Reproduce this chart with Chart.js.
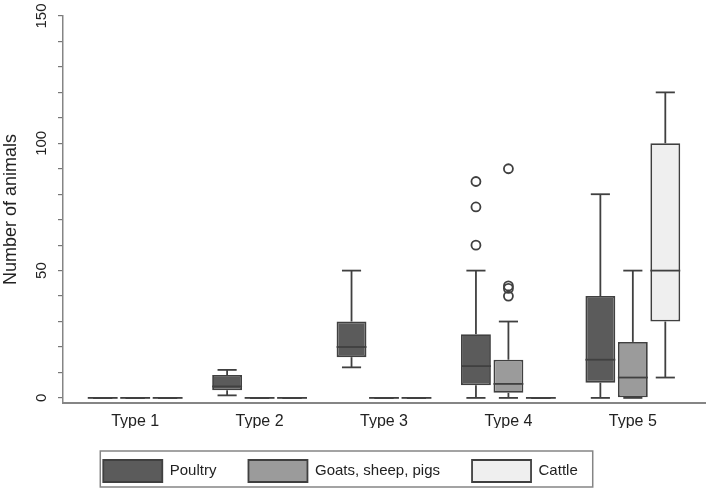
<!DOCTYPE html>
<html>
<head>
<meta charset="utf-8">
<script src="https://cdn.jsdelivr.net/npm/chart.js@4.4.0/dist/chart.umd.min.js"></script>
<style>
  html, body { margin: 0; padding: 0; background: #fff; }
  #wrap { width: 709px; height: 492px; }
</style>
</head>
<body>
<div id="wrap"><canvas id="boxChart"></canvas></div>
<script>
// Categories and tick labels
const categories = ['Type 1', 'Type 2', 'Type 3', 'Type 4', 'Type 5'];
const seriesNames = ['Poultry', 'Goats, sheep, pigs', 'Cattle'];
const yMajorTicks = [0, 50, 100, 150];
const yMinorTicks = [0, 10, 20, 30, 40, 50, 60, 70, 80, 90, 100, 110, 120, 130, 140, 150];

// Poultry box statistics (per category)
const poultryMin = [0, 1, 12, 0, 0];
const poultryQ1 = [0, 3, 16, 5, 6];
const poultryMed = [0, 4.5, 20, 12.5, 15];
const poultryQ3 = [0, 9, 30, 25, 40];
const poultryMax = [0, 11, 50, 50, 80];
const poultryOut = [[], [], [], [60, 75, 85], []];

// Goats, sheep, pigs
const goatsMin = [0, 0, 0, 0, 0];
const goatsQ1 = [0, 0, 0, 2, 0];
const goatsMed = [0, 0, 0, 5.5, 8];
const goatsQ3 = [0, 0, 0, 15, 22];
const goatsMax = [0, 0, 0, 30, 50];
const goatsOut = [[], [], [], [40, 43, 44, 90], []];

// Cattle
const cattleMin = [0, 0, 0, 0, 8];
const cattleQ1 = [0, 0, 0, 0, 30];
const cattleMed = [0, 0, 0, 0, 50];
const cattleQ3 = [0, 0, 0, 0, 100];
const cattleMax = [0, 0, 0, 0, 120];
const cattleOut = [[], [], [], [], []];

const stats = [
    { min: poultryMin, q1: poultryQ1, med: poultryMed, q3: poultryQ3, max: poultryMax, out: poultryOut },
    { min: goatsMin, q1: goatsQ1, med: goatsMed, q3: goatsQ3, max: goatsMax, out: goatsOut },
    { min: cattleMin, q1: cattleQ1, med: cattleMed, q3: cattleQ3, max: cattleMax, out: cattleOut }
];

const boxColors = ['#5b5b5b', '#9b9b9b', '#efefef'];
const lineColor = '#404040';
const axisColor = '#858585';

Chart.defaults.font.family = '"Liberation Sans", Arial, sans-serif';
Chart.defaults.color = '#222';

// Whiskers, medians and outliers drawn on top of the floating bars
const boxWhiskers = {
    id: 'boxWhiskers',
    // nudge the legend a little to the left, like the original
    afterUpdate(chart) {
        const lg = chart.legend;
        lg.left -= 12;
        lg.right -= 12;
        lg.legendHitBoxes.forEach(h => { h.left -= 12; });
    },
    afterDatasetsDraw(chart) {
        const ctx = chart.ctx;
        const yScale = chart.scales.y;
        const line = (x1, y1, x2, y2) => {
            ctx.beginPath();
            ctx.moveTo(x1, y1);
            ctx.lineTo(x2, y2);
            ctx.stroke();
        };
        ctx.save();
        ctx.strokeStyle = lineColor;
        ctx.lineWidth = 1.8;
        stats.forEach((s, d) => {
            chart.getDatasetMeta(d).data.forEach((bar, i) => {
                const x = bar.x;
                const half = bar.width / 2;
                const cap = bar.width * 0.32;
                const yMin = yScale.getPixelForValue(s.min[i]);
                const yQ1 = yScale.getPixelForValue(s.q1[i]);
                const yMed = yScale.getPixelForValue(s.med[i]);
                const yQ3 = yScale.getPixelForValue(s.q3[i]);
                const yMax = yScale.getPixelForValue(s.max[i]);
                line(x, yQ3, x, yMax);
                line(x - cap, yMax, x + cap, yMax);
                line(x, yQ1, x, yMin);
                line(x - cap, yMin, x + cap, yMin);
                line(x - half, yMed, x + half, yMed);
                s.out[i].forEach(v => {
                    ctx.beginPath();
                    ctx.arc(x, yScale.getPixelForValue(v), 4.5, 0, 2 * Math.PI);
                    ctx.stroke();
                });
            });
        });
        ctx.restore();
    },
    // frame around the legend
    afterDraw(chart) {
        const boxes = chart.legend.legendHitBoxes;
        if (!boxes || !boxes.length) return;
        const first = boxes[0];
        const last = boxes[boxes.length - 1];
        const ctx = chart.ctx;
        ctx.save();
        ctx.strokeStyle = axisColor;
        ctx.lineWidth = 1.5;
        ctx.strokeRect(first.left - 3, first.top - 9,
            last.left + last.width + 15 - (first.left - 3), 22 + 14);
        ctx.restore();
    }
};

const ctx = document.getElementById('boxChart').getContext('2d');
new Chart(ctx, {
    type: 'bar',
    data: {
        datasets: seriesNames.map((name, d) => ({
            label: name,
            data: categories.map((c, i) => ({ x: i + 1, y: [stats[d].q1[i], stats[d].q3[i]] })),
            backgroundColor: boxColors[d],
            borderColor: lineColor,
            borderWidth: 1.8,
            borderSkipped: false,
            categoryPercentage: 0.783,
            barPercentage: 0.92
        }))
    },
    options: {
        responsive: true,
        maintainAspectRatio: false,
        animation: false,
        layout: { padding: { left: 0, right: 4, top: 16, bottom: 0 } },
        scales: {
            x: {
                type: 'linear',
                offset: false,
                min: 0.42,
                max: 5.58,
                afterBuildTicks: s => { s.ticks = categories.map((c, i) => ({ value: i + 1 })); },
                afterFit: s => { s.height = 25; },
                grid: { display: true, offset: false, drawOnChartArea: false, drawTicks: false },
                border: { color: axisColor, width: 2 },
                ticks: {
                    callback: v => categories[v - 1],
                    font: { size: 16 },
                    padding: 9,
                    maxRotation: 0,
                    autoSkip: false
                }
            },
            y: {
                min: -2,
                max: 150,
                afterBuildTicks: s => { s.ticks = yMinorTicks.map(v => ({ value: v })); },
                afterFit: s => { s.width = 63; },
                grid: { drawOnChartArea: false, drawTicks: true, tickLength: 5, color: '#777', lineWidth: 1.2 },
                border: { color: axisColor, width: 1.5 },
                ticks: {
                    callback: v => yMajorTicks.includes(v) ? String(v) : '',
                    minRotation: 90,
                    maxRotation: 90,
                    crossAlign: 'center',
                    padding: 4,
                    font: { size: 15 },
                    autoSkip: false
                },
                title: {
                    display: true,
                    text: 'Number of animals',
                    font: { size: 18 },
                    padding: { top: 0, bottom: 0 }
                }
            }
        },
        plugins: {
            legend: {
                position: 'bottom',
                labels: { boxWidth: 59, boxHeight: 22, padding: 32, font: { size: 15 } }
            },
            tooltip: { enabled: false }
        }
    },
    plugins: [boxWhiskers]
});
</script>
</body>
</html>
